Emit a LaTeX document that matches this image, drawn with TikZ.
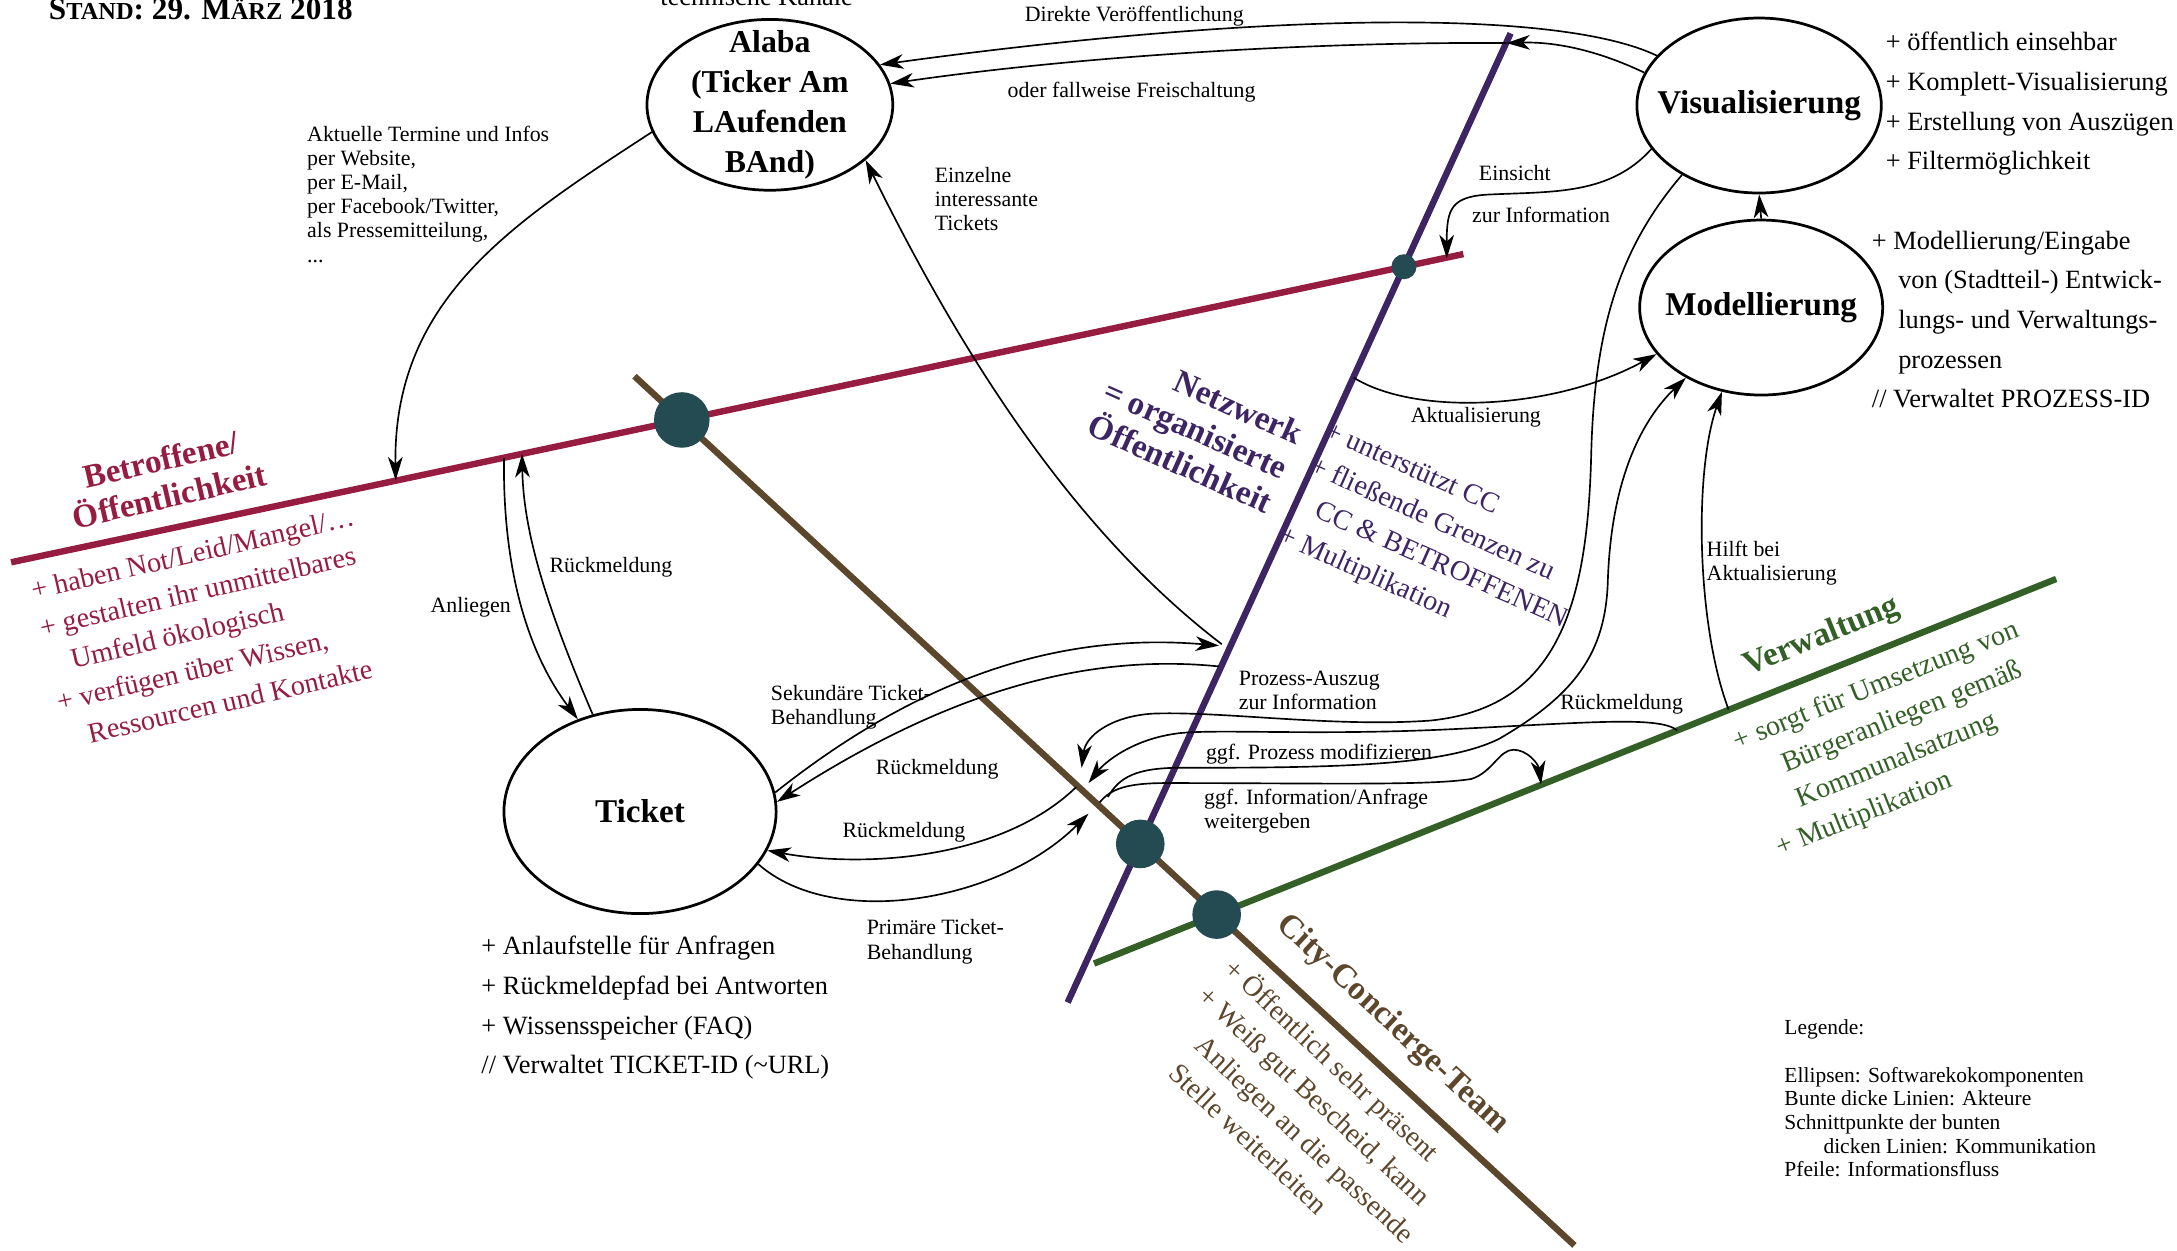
\documentclass[tikz,border=0pt]{standalone}
\usepackage{fontspec}
\setmainfont{Liberation Serif}
\usepackage{tikz}
\usetikzlibrary{shapes.geometric,arrows.meta,calc}
\definecolor{betrot}{RGB}{150,28,64}
\definecolor{netzlila}{RGB}{61,36,99}
\definecolor{ccbraun}{RGB}{92,70,44}
\definecolor{verwgruen}{RGB}{52,96,40}
\definecolor{knoten}{RGB}{36,74,82}

\begin{document}
\begin{tikzpicture}[x=0.025cm, y=-0.025cm, >={Stealth[length=12pt,width=7.5pt,inset=3.5pt]},
    comp/.style={ellipse, draw, line width=1.4pt, inner sep=0pt},
    ttl/.style={inner sep=0pt, align=center, font=\bfseries\fontsize{17}{20.4}\selectfont},
    lbl/.style={inner sep=0pt, align=left, font=\fontsize{11.2}{12.4}\selectfont},
    feat/.style={inner sep=0pt, align=left, font=\fontsize{13.5}{20.3}\selectfont},
    actor/.style={inner sep=0pt, align=center, font=\bfseries\fontsize{17}{19.2}\selectfont},
    role/.style={inner sep=0pt, align=left, font=\fontsize{14.5}{19.5}\selectfont},
    akteur/.style={line width=3.3pt},
    knot/.style={circle, fill=knoten, inner sep=0pt},
    pfeil/.style={->, line width=0.85pt}]
        \useasboundingbox (0,0) rectangle (1568,901);

        % Akteure: bunte dicke Linien
        \coordinate (betL) at (8,405);
        \coordinate (betR) at (1054,183);
        \coordinate (netB) at (769,722);
        \coordinate (netT) at (1088,24);
        \coordinate (cctT) at (457,271);
        \coordinate (cctB) at (1134,897);
        \coordinate (verL) at (788,694);
        \coordinate (verR) at (1481,417);
        \draw[akteur, betrot] (betL) -- (betR);
        \draw[akteur, netzlila] (netB) -- (netT);
        \draw[akteur, ccbraun] (cctT) -- (cctB);
        \draw[akteur, verwgruen] (verL) -- (verR);

        % Schnittpunkte = Kommunikation
        \node[knot, minimum size=1cm] (kBC) at (intersection of betL--betR and cctT--cctB) {};
        \node[knot, minimum size=0.45cm] (kBN) at (intersection of betL--betR and netB--netT) {};
        \node[knot, minimum size=0.875cm] (kNC) at (intersection of netB--netT and cctT--cctB) {};
        \node[knot, minimum size=0.875cm] (kCV) at (intersection of cctT--cctB and verL--verR) {};

        % Titel
        \node[anchor=base west, inner sep=0pt, font=\bfseries\fontsize{16}{16}\selectfont] (stand) at (35,14)
            {S{\fontsize{12.5}{12}\selectfont TAND}: 29. M{\fontsize{12.5}{12}\selectfont ÄRZ} 2018};
        \node[lbl, anchor=base, font=\fontsize{13.5}{14}\selectfont] (kanal) at (545,4) {technische Kanäle};

        % Akteur-Beschriftungen
        \node[actor, betrot, rotate=13] (aBet) at (119,344) {Betroffene/\\Öffentlichkeit};
        \node[role, betrot, rotate=13] (rBet) at (151,452)
            {+ haben Not/Leid/Mangel/…\\+ gestalten ihr unmittelbares\\\hphantom{+\ }Umfeld ökologisch\\+ verfügen über Wissen,\\\hphantom{+\ }Ressourcen und Kontakte};
        \node[actor, netzlila, rotate=-24, align=right] (aNetz) at (861,309) {Netzwerk\\= organisierte\\Öffentlichkeit};
        \node[role, netzlila, rotate=-24] (rNetz) at (1036,392)
            {+ unterstützt CC\\+ fließende Grenzen zu\\\hphantom{+\ }CC \& BETROFFENEN\\+ Multiplikation};
        \node[actor, ccbraun, rotate=-43] (aCC) at (1003,738) {City-Concierge-Team};
        \node[role, ccbraun, rotate=-43] (rCC) at (942,802)
            {+ Öffentlich sehr präsent\\+ Weiß gut Bescheid, kann\\\hspace*{1.1em}Anliegen an die passende\\\hspace*{1.1em}Stelle weiterleiten};
        \node[actor, verwgruen, rotate=22] (aVerw) at (1312,459) {Verwaltung};
        \node[role, verwgruen, rotate=22] (rVerw) at (1367,533)
            {+ sorgt für Umsetzung von\\\hspace*{1.3em}Bürgeranliegen gemäß\\\hspace*{1.3em}Kommunalsatzung\\+ Multiplikation};

        % Softwarekomponenten
        \node[comp, minimum width=4.425cm, minimum height=3.075cm,
            label={[ttl, font=\bfseries\fontsize{16.3}{20.4}\selectfont]center:Alaba\\(Ticker Am\\LAufenden\\BAnd)}] (alaba) at (554.5,75.5) {};
        \node[comp, minimum width=4.4cm, minimum height=3.15cm, label={[ttl]center:Visualisierung}] (vis) at (1267,76) {};
        \node[comp, minimum width=4.375cm, minimum height=3.15cm, label={[ttl]center:Modellierung}] (mod) at (1268.5,221.5) {};
        \node[comp, minimum width=4.9cm, minimum height=3.675cm, label={[ttl]center:Ticket}] (ticket) at (461,584.5) {};

        % Eigenschaften
        \node[feat, anchor=north west] (fVis) at (1358,23)
            {+ öffentlich einsehbar\\+ Komplett-Visualisierung\\+ Erstellung von Auszügen\\+ Filtermöglichkeit};
        \node[feat, anchor=north west] (fMod) at (1348,166)
            {+ Modellierung/Eingabe\\\hspace*{1em}von (Stadtteil-) Entwick-\\\hspace*{1em}lungs- und Verwaltungs-\\\hspace*{1em}prozessen\\// Verwaltet PROZESS-ID};
        \node[feat, anchor=north west] (fTicket) at (346.5,674)
            {+ Anlaufstelle für Anfragen\\+ Rückmeldepfad bei Antworten\\+ Wissensspeicher (FAQ)\\// Verwaltet TICKET-ID (\textasciitilde URL)};

        % Legende
        \node[lbl, anchor=north west, font=\fontsize{11}{12.1}\selectfont] (legende) at (1285,734.4)
            {Legende:\\[12.1pt]Ellipsen: Softwarekokomponenten\\Bunte dicke Linien: Akteure\\Schnittpunkte der bunten\\\hspace*{20pt}dicken Linien: Kommunikation\\Pfeile: Informationsfluss};

        % Anschlusspunkte auf den Linien
        \coordinate (bAkt) at (285,346);
        \coordinate (bAnl) at (363,330);
        \coordinate (bRue) at (376,327);
        \coordinate (bEins) at (1042,186);
        \coordinate (nFrei) at (1085,31);
        \coordinate (nAkt) at (975,272);
        \coordinate (nSek) at (878,465);
        \coordinate (nEinz) at (880,464);
        \coordinate (nRue) at (878,480);
        \coordinate (cRue) at (775,567);
        \coordinate (cPrim) at (784,586);
        \coordinate (cPro) at (779,553);
        \coordinate (cRue2) at (784,564);
        \coordinate (cMod) at (798,574);
        \coordinate (cInf) at (792,578);
        \coordinate (vInf) at (1110,565);
        \coordinate (vRue) at (1208,526);
        \coordinate (vHilf) at (1245,511);

        % Pfeile rund um Alaba
        \draw[pfeil] (alaba.193) .. controls (370,160) and (283,215) .. (bAkt);
        \node[lbl, anchor=north west] (lAkt) at (221,90.2)
            {Aktuelle Termine und Infos\\per Website,\\per E-Mail,\\per Facebook/Twitter,\\als Pressemitteilung,\\...};
        \draw[pfeil] (vis.154) .. controls (1120,5) and (900,10) .. (alaba.20);
        \node[lbl, anchor=base] (lDir) at (817,15.6) {Direkte Veröffentlichung};
        \draw[pfeil] (vis.164) .. controls (1150,36) and (1120,30) .. (nFrei);
        \draw[pfeil] (nFrei) .. controls (950,30) and (780,40) .. (alaba.10);
        \node[lbl, anchor=base] (lFrei) at (815,70) {oder fallweise Freischaltung};
        \draw[pfeil] (nEinz) .. controls (770,380) and (690,250) .. (alaba.330);
        \node[lbl, anchor=north west] (lEinz) at (673,120.2) {Einzelne\\interessante\\Tickets};

        % Pfeile rund um Visualisierung und Modellierung
        \draw[pfeil] (vis.202) .. controls (1160,140) and (1120,138) .. (1075,140)
            .. controls (1045,141) and (1042,150) .. (bEins);
        \node[lbl, anchor=base] (lEins) at (1091,130) {Einsicht};
        \node[lbl, anchor=base] (lZur) at (1110,160) {zur Information};
        \draw[pfeil] (nAkt) .. controls (1020,300) and (1120,295) .. (mod.204);
        \node[lbl, anchor=base] (lAkt2) at (1063,304) {Aktualisierung};
        \draw[pfeil] (mod.north) -- (vis.south);
        \draw[pfeil] (vHilf) .. controls (1222,450) and (1220,340) .. (mod.245);
        \node[lbl, anchor=north west] (lHilf) at (1229,389.2) {Hilft bei\\Aktualisierung};

        % Pfeile zwischen City-Concierge, Modellierung und Verwaltung
        \draw[pfeil] (vis.222) .. controls (1165,180) and (1148,240) .. (1146,330)
            .. controls (1143,440) and (1120,510) .. (1030,519)
            .. controls (960,524) and (880,512) .. (830,514)
            .. controls (800,516) and (782,530) .. (cPro);
        \node[lbl, anchor=north west] (lProz) at (892,483.2) {Prozess-Auszug\\zur Information};
        \draw[pfeil] (vRue) .. controls (1195,516) and (1150,520) .. (1050,525)
            .. controls (950,530) and (880,525) .. (850,528)
            .. controls (815,532) and (795,550) .. (cRue2);
        \node[lbl, anchor=base] (lRueV) at (1168,511) {Rückmeldung};
        \draw[pfeil] (cMod) .. controls (806,560) and (818,553) .. (850,553)
            .. controls (960,553) and (1040,552) .. (1080,532)
            .. controls (1135,500) and (1156,470) .. (1158,420)
            .. controls (1160,350) and (1180,305) .. (mod.223);
        \node[lbl, anchor=base] (lModi) at (950,547) {ggf. Prozess modifizieren};
        \draw[pfeil] (cInf) .. controls (800,568) and (812,564) .. (840,564)
            .. controls (950,564) and (1030,566) .. (1060,561)
            .. controls (1075,556) and (1080,540) .. (1090,540)
            .. controls (1100,540) and (1108,550) .. (vInf);
        \node[lbl, anchor=north west] (lInf) at (867,568.2) {ggf. Information/Anfrage\\weitergeben};

        % Pfeile rund um Ticket
        \draw[pfeil] (bAnl) .. controls (362,410) and (380,470) .. (ticket.124);
        \node[lbl, anchor=base] (lAnl) at (339,441) {Anliegen};
        \draw[pfeil] (ticket.116) .. controls (395,440) and (377,385) .. (bRue);
        \node[lbl, anchor=base] (lRueT) at (440,412) {Rückmeldung};
        \draw[pfeil] (ticket.8) .. controls (660,490) and (760,455) .. (nSek);
        \node[lbl, anchor=north west] (lSek) at (555,493.2) {Sekundäre Ticket-\\Behandlung};
        \draw[pfeil] (nRue) .. controls (780,470) and (680,500) .. (ticket.4);
        \node[lbl, anchor=base] (lRue1) at (675,558) {Rückmeldung};
        \draw[pfeil] (cRue) .. controls (720,620) and (620,625) .. (ticket.-17);
        \node[lbl, anchor=base] (lRue2) at (651,603) {Rückmeldung};
        \draw[pfeil] (ticket.-24) .. controls (600,670) and (720,650) .. (cPrim);
        \node[lbl, anchor=north west] (lPrim) at (624,662.2) {Primäre Ticket-\\Behandlung};

    \end{tikzpicture}
\end{document}
